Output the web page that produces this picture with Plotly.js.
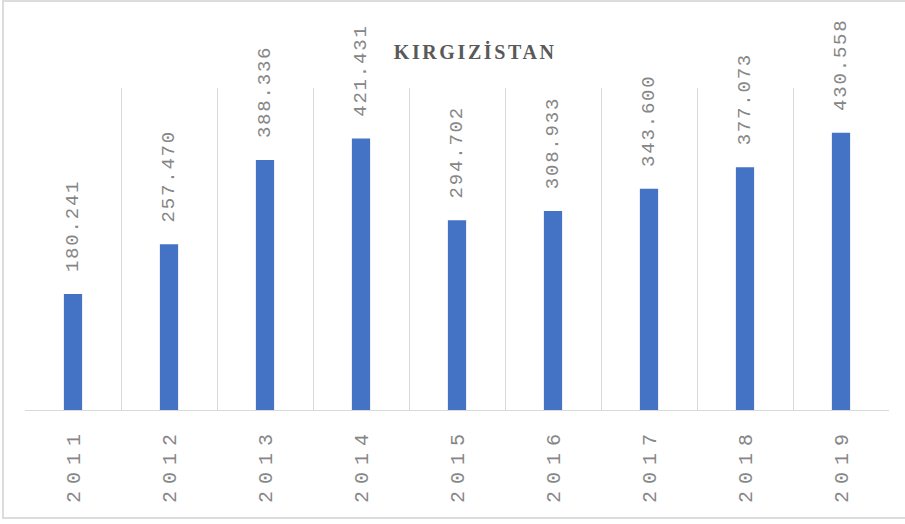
<!DOCTYPE html>
<html>
<head>
<meta charset="utf-8">
<script src="https://cdn.plot.ly/plotly-3.0.1.min.js"></script>
<style>
  html, body { margin: 0; padding: 0; background: #fff; }
  #wrap { position: relative; width: 905px; height: 524px; overflow: hidden; }
  #chart { position: absolute; left: 0; top: 0; width: 905px; height: 524px; }
  #frame { position: absolute; left: 2px; top: 0px; width: 910px; height: 519px;
           border-left: 2px solid #dcdcdc; border-top: 2px solid #dcdcdc; border-bottom: 2px solid #dcdcdc;
           box-sizing: border-box; pointer-events: none; }
  .xtick text { letter-spacing: 7px; }
  text.bartext { letter-spacing: 1.8px; }
  .gtitle { letter-spacing: 2.6px; }
</style>
</head>
<body>
<div id="wrap">
  <div id="chart"></div>
  <div id="frame"></div>
</div>
<script>
const years = ["2011", "2012", "2013", "2014", "2015", "2016", "2017", "2018", "2019"];
const values = [180.241, 257.470, 388.336, 421.431, 294.702, 308.933, 343.600, 377.073, 430.558];
const chartTitle = "KIRGIZİSTAN";

const trace = {
  type: "bar",
  x: years,
  y: values,
  marker: { color: "#4472C4" },
  text: values.map(v => "\u2007\u2009" + v.toFixed(3)),
  textposition: "outside",
  textangle: -90,
  constraintext: "none",
  cliponaxis: false,
  textfont: { family: "Liberation Mono, DejaVu Sans Mono, monospace", size: 19, color: "#868686" },
  hoverinfo: "none"
};

const layout = {
  width: 905,
  height: 524,
  margin: { l: 25, r: 16, t: 88, b: 114 },
  paper_bgcolor: "#ffffff",
  plot_bgcolor: "#ffffff",
  showlegend: false,
  bargap: 0.81,
  title: {
    text: "<b>" + chartTitle + "</b>",
    x: 0.525, xref: "container", xanchor: "center",
    y: 0.9, yref: "container", yanchor: "middle",
    font: { family: "Liberation Serif, DejaVu Serif, serif", size: 20, color: "#595959" }
  },
  xaxis: {
    type: "category",
    tickson: "boundaries",
    ticks: "",
    showgrid: true,
    gridcolor: "#d9d9d9",
    gridwidth: 1,
    showline: true,
    linecolor: "#d9d9d9",
    linewidth: 1,
    tickangle: -90,
    ticklabelstandoff: 8,
    tickfont: { family: "Liberation Mono, DejaVu Sans Mono, monospace", size: 20, color: "#868686" },
    fixedrange: true
  },
  yaxis: {
    range: [0, 500],
    visible: false,
    showgrid: false,
    zeroline: false,
    fixedrange: true
  }
};

Plotly.newPlot("chart", [trace], layout, { displayModeBar: false, staticPlot: true });
</script>
</body>
</html>
